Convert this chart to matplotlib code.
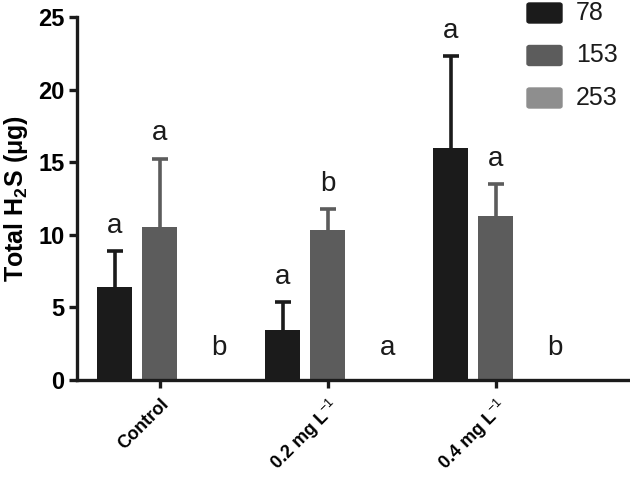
import numpy as np
import matplotlib
matplotlib.use("Agg")
import matplotlib.pyplot as plt
from matplotlib.patches import FancyBboxPatch

plt.rcParams["font.family"] = ["Liberation Sans", "DejaVu Sans"]
plt.rcParams["mathtext.fontset"] = "custom"
plt.rcParams["mathtext.rm"] = "Liberation Sans"
plt.rcParams["mathtext.bf"] = "Liberation Sans:bold"

groups = ["Control", "0.2 mg L$^{-1}$", "0.4 mg L$^{-1}$"]
series = ["78", "153", "253"]
means = {
    "78": [6.4, 3.45, 16.0],
    "153": [10.55, 10.3, 11.3],
    "253": [0.0, 0.0, 0.0],
}
errors = {
    "78": [2.5, 1.9, 6.3],
    "153": [4.7, 1.5, 2.2],
    "253": [0.0, 0.0, 0.0],
}
letters = {
    "78": ["a", "a", "a"],
    "153": ["a", "b", "a"],
    "253": ["b", "a", "b"],
}
colors = {"78": "#1b1b1b", "153": "#5c5c5c", "253": "#8e8e8e"}

fig = plt.figure(figsize=(6.3, 4.79), dpi=100)
ax = fig.add_axes([77 / 630, 1 - 380 / 479, (630 - 77) / 630, (380 - 17) / 479])

x = np.arange(len(groups))
width = 0.208
offsets = [-0.268, 0.0, 0.268]

for s, off in zip(series, offsets):
    vals = np.array(means[s])
    errs = np.array(errors[s])
    ax.bar(x + off, vals, width, color=colors[s], zorder=2)
    has_err = errs > 0
    if has_err.any():
        _, caps, _ = ax.errorbar(x[has_err] + off, vals[has_err],
                                 yerr=[np.zeros(has_err.sum()), errs[has_err]],
                                 fmt="none", ecolor=colors[s], elinewidth=2.6,
                                 capsize=6, capthick=2.6, zorder=1)
        caps[0].set_visible(False)  # no cap at the bar top
    for xi, v, e, lab in zip(x, vals, errs, letters[s]):
        if v > 0:
            ax.text(xi + off, v + e + 1.25, lab, ha="center", va="baseline",
                    fontsize=20, color="#1b1b1b")
        else:
            ax.text(xi + off + 0.085, 1.7, lab, ha="center", va="baseline",
                    fontsize=20, color="#1b1b1b")

ax.set_xlim(-0.494, 2.80)
ax.set_ylim(0, 25)
ax.set_yticks([0, 5, 10, 15, 20, 25])
ax.set_xticks(x)
ax.set_xticklabels(groups, rotation=45, ha="right", rotation_mode="anchor",
                   fontsize=13, fontweight="bold")
for lbl in ax.get_yticklabels():
    lbl.set_fontweight("bold")
    lbl.set_fontsize(17)
ax.set_ylabel("Total H$_\\mathbf{2}$S ($\\mathbf{\\mu}$g)", fontsize=18,
              fontweight="bold", labelpad=6)

for side in ["top", "right"]:
    ax.spines[side].set_visible(False)
for side in ["left", "bottom"]:
    ax.spines[side].set_linewidth(2.4)
    ax.spines[side].set_color("#1b1b1b")
ax.tick_params(axis="both", width=2.4, length=6, color="#1b1b1b", pad=3)
ax.tick_params(axis="x", pad=5)

# legend: rounded swatches at the top right
for i, s in enumerate(series):
    y0 = 1 - (23 + 42.5 * i) / 479
    sw = FancyBboxPatch((527 / 630, y0), 35 / 630, 20 / 479,
                        boxstyle="round,pad=0,rounding_size=0.004",
                        transform=fig.transFigure, color=colors[s], zorder=5)
    fig.patches.append(sw)
    fig.text(576 / 630, y0 + 10 / 479, s, fontsize=18, va="center",
             ha="left", color="#1b1b1b")

fig.savefig("out.png", dpi=100)
